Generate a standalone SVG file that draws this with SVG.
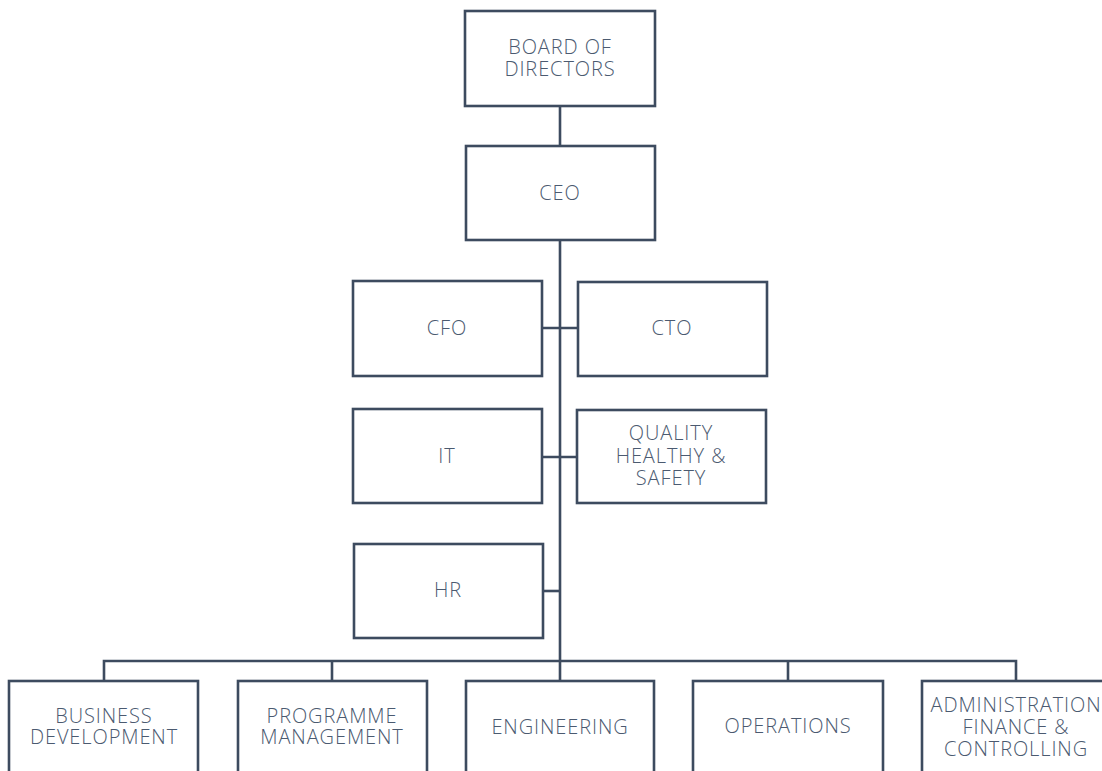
<svg xmlns="http://www.w3.org/2000/svg" width="1102" height="771" viewBox="0 0 1102 771">
<style>
.box{fill:#ffffff;stroke:#3d4b5f;stroke-width:2.6}
.ln{fill:none;stroke:#3d4b5f;stroke-width:2.6}
text{font-family:"Open Sans","Lato","Liberation Sans",sans-serif;font-weight:300;font-size:20px;letter-spacing:0.9px;fill:#4b5a70;text-anchor:middle}
</style>
<rect width="1102" height="771" fill="#ffffff"/>
<g id="connectors">
<line class="ln" x1="560" y1="106" x2="560" y2="146"/>
<line class="ln" x1="560" y1="240" x2="560" y2="681"/>
<line class="ln" x1="542" y1="328" x2="578" y2="328"/>
<line class="ln" x1="542" y1="457" x2="577" y2="457"/>
<line class="ln" x1="543" y1="591" x2="560" y2="591"/>
<polyline class="ln" points="104,681 104,661 1016,661 1016,681"/>
<line class="ln" x1="332" y1="661" x2="332" y2="681"/>
<line class="ln" x1="788" y1="661" x2="788" y2="681"/>
</g>
<g id="board"><rect class="box" x="465" y="11" width="190" height="95"/><text x="560" y="54">BOARD OF<tspan x="560" y="76">DIRECTORS</tspan></text></g>
<g id="ceo"><rect class="box" x="466" y="146" width="189" height="94"/><text x="560" y="200">CEO</text></g>
<g id="cfo"><rect class="box" x="353" y="281" width="189" height="95"/><text x="447" y="335">CFO</text></g>
<g id="cto"><rect class="box" x="578" y="282" width="189" height="94"/><text x="672" y="335">CTO</text></g>
<g id="it"><rect class="box" x="353" y="409" width="189" height="94"/><text x="447" y="463">IT</text></g>
<g id="qhs"><rect class="box" x="577" y="410" width="189" height="93"/><text x="671" y="440">QUALITY<tspan x="671" y="463">HEALTHY &amp;</tspan><tspan x="671" y="485">SAFETY</tspan></text></g>
<g id="hr"><rect class="box" x="354" y="544" width="189" height="94"/><text x="448" y="597">HR</text></g>
<g id="bd"><rect class="box" x="9" y="681" width="189" height="100"/><text x="104" y="723">BUSINESS<tspan x="104" y="744">DEVELOPMENT</tspan></text></g>
<g id="pm"><rect class="box" x="238" y="681" width="189" height="100"/><text x="332" y="723">PROGRAMME<tspan x="332" y="744">MANAGEMENT</tspan></text></g>
<g id="eng"><rect class="box" x="466" y="681" width="188" height="100"/><text x="560" y="734">ENGINEERING</text></g>
<g id="ops"><rect class="box" x="693" y="681" width="190" height="100"/><text x="788" y="733">OPERATIONS</text></g>
<g id="afc"><rect class="box" x="922" y="681" width="190" height="100"/><text x="1016" y="712">ADMINISTRATION<tspan x="1016" y="734">FINANCE &amp;</tspan><tspan x="1016" y="756">CONTROLLING</tspan></text></g>
</svg>
